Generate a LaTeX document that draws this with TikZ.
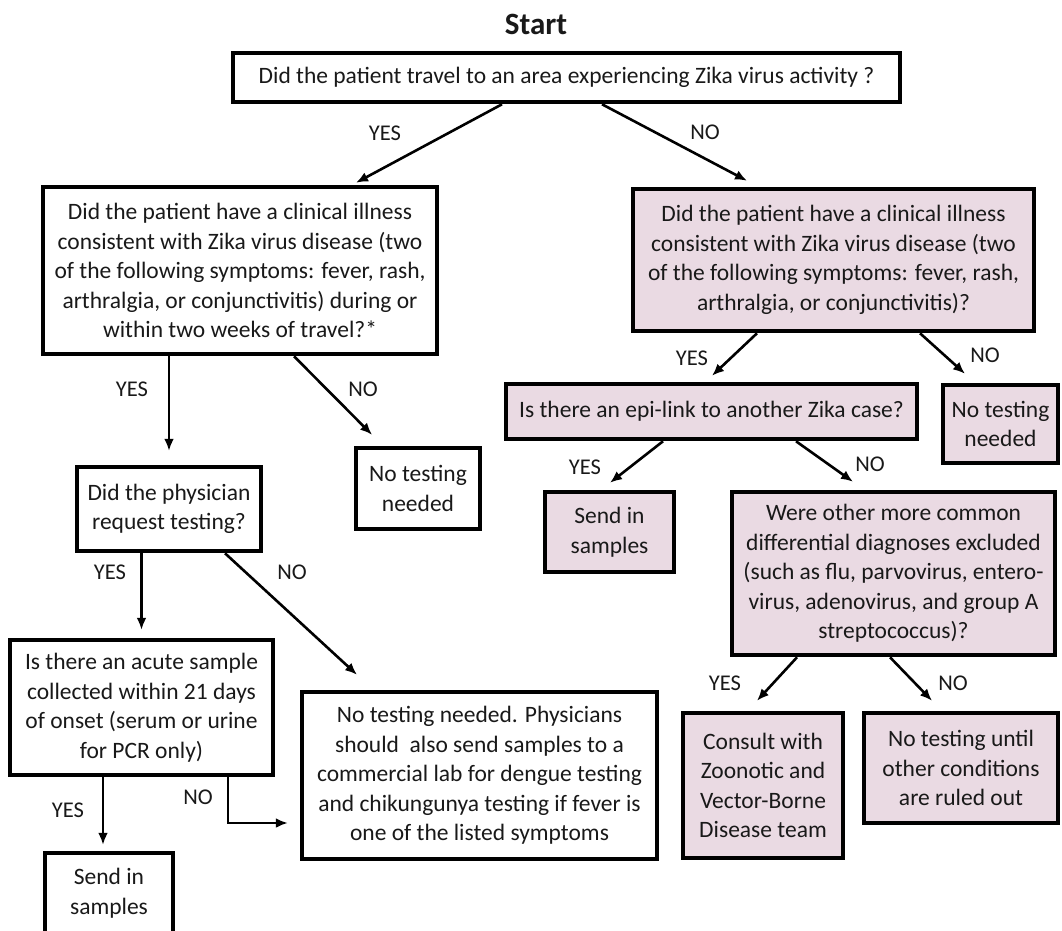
\documentclass[tikz,border=0pt]{standalone}
\usepackage{fontspec}
\setmainfont{Carlito}
\usepackage{xcolor}
\usetikzlibrary{positioning,calc,arrows.meta}
\definecolor{zikapink}{RGB}{234,218,227}
\definecolor{inkgray}{RGB}{25,25,25}

\begin{document}
\begin{tikzpicture}[x=1pt, y=-1pt,
            qbox/.style={rectangle, draw=black, line width=4.5pt, fill=white, align=center, inner sep=0pt, text=inkgray, font=\fontsize{23.5}{29.5}\selectfont},
            pbox/.style={qbox, fill=zikapink},
            lbl/.style={text=inkgray, font=\fontsize{22.5}{24}\selectfont, inner sep=0pt},
            flow/.style={line width=2.6pt, -{Latex[length=12pt,width=10pt]}}
        ]
            \clip (0,0) rectangle (1062,930);
            \fill[white] (0,0) rectangle (1062,930);

            % Title
            \node[font=\fontsize{31}{34}\selectfont\bfseries, text=inkgray] (start) at (536,24) {Start};

            % Top question
            \node[qbox, minimum width=667pt, minimum height=49pt] (travel) at (566.5,77.5)
                {Did the patient travel to an area experiencing Zika virus activity ?};

            % Left branch (travel)
            \node[qbox, minimum width=394pt, minimum height=167pt] (cliniL) at (240,270.5)
                {Did the patient have a clinical illness\\consistent with Zika virus disease (two\\of the following symptoms: fever, rash,\\arthralgia, or conjunctivitis) during or\\within two weeks of travel?*};
            \node[qbox, minimum width=124pt, minimum height=81pt] (notestL) at (418,488.5)
                {No testing\\needed};
            \node[qbox, minimum width=184pt, minimum height=84pt] (physician) at (169,509)
                {Did the physician\\request testing?};
            \node[qbox, minimum width=263pt, minimum height=135pt] (acute) at (141.5,707.5)
                {Is there an acute sample\\collected within 21 days\\of onset (serum or urine\\for PCR only)};
            \node[qbox, minimum width=355pt, minimum height=167pt] (advice) at (479.5,775.5)
                {No testing needed. Physicians\\should\ \ also send samples to a\\commercial lab for dengue testing\\and chikungunya testing if fever is\\one of the listed symptoms};
            \node[qbox, minimum width=128pt, minimum height=80pt] (sendL) at (109,893)
                {Send in\\samples};

            % Right branch (no travel)
            \node[pbox, minimum width=401pt, minimum height=142pt] (cliniR) at (833.5,260)
                {Did the patient have a clinical illness\\consistent with Zika virus disease (two\\of the following symptoms: fever, rash,\\arthralgia, or conjunctivitis)?};
            \node[pbox, minimum width=411pt, minimum height=55pt] (epi) at (711.5,411.5)
                {Is there an epi-link to another Zika case?};
            \node[pbox, minimum width=115pt, minimum height=78pt] (notestR) at (1000.5,424)
                {No testing\\needed};
            \node[pbox, minimum width=129pt, minimum height=80pt] (sendR) at (609.5,532)
                {Send in\\samples};
            \node[pbox, minimum width=323pt, minimum height=163pt] (diffdx) at (893.5,573.5)
                {Were other more common\\differential diagnoses excluded\\(such as flu, parvovirus, entero-\\virus, adenovirus, and group A\\streptococcus)?};
            \node[pbox, minimum width=160pt, minimum height=145pt] (consult) at (763,785.5)
                {Consult with\\Zoonotic and\\Vector-Borne\\Disease team};
            \node[pbox, minimum width=194pt, minimum height=110pt] (until) at (961,768)
                {No testing until\\other conditions\\are ruled out};

            % Connections, left side
            \draw[flow] ([xshift=-64.5pt]travel.south) -- ([xshift=116pt,yshift=2pt]cliniL.north);
            \draw[flow] ([xshift=-71pt]cliniL.south) -- ([yshift=14pt]physician.north);
            \draw[flow] ([xshift=54pt]cliniL.south) -- ([xshift=-46pt,yshift=11pt]notestL.north);
            \draw[flow] ([xshift=-27.5pt]physician.south) -- ([yshift=8pt]acute.north);
            \draw[flow] ([xshift=56pt]physician.south) -- ([xshift=-122.5pt,yshift=15pt]advice.north);
            \draw[flow] ([xshift=-38.5pt]acute.south) -- ([xshift=-6pt,yshift=6pt]sendL.north);
            \draw[flow] ([xshift=86.5pt]acute.south) |- ([xshift=-12pt,yshift=-47.5pt]advice.west);

            % Connections, right side
            \draw[flow] ([xshift=35.5pt]travel.south) -- ([xshift=-86.5pt,yshift=6pt]cliniR.north);
            \draw[flow] ([xshift=-76.5pt]cliniR.south) -- ([xshift=0.5pt,yshift=6pt]epi.north);
            \draw[flow] ([xshift=86.5pt]cliniR.south) -- ([xshift=-35.5pt,yshift=9pt]notestR.north);
            \draw[flow] ([xshift=-48.5pt]epi.south) -- ([xshift=0.5pt,yshift=7pt]sendR.north);
            \draw[flow] ([xshift=84.5pt]epi.south) -- ([xshift=-40.5pt,yshift=8pt]diffdx.north);
            \draw[flow] ([xshift=-96.5pt]diffdx.south) -- ([xshift=-6pt,yshift=10pt]consult.north);
            \draw[flow] ([xshift=-3.5pt]diffdx.south) -- ([xshift=-29pt,yshift=10pt]until.north);

            % Labels
            \node[lbl] (y1) at (385,133) {YES};
            \node[lbl] (n1) at (705,132) {NO};
            \node[lbl] (y2) at (132,389) {YES};
            \node[lbl] (n2) at (363,389) {NO};
            \node[lbl] (y3) at (110,572) {YES};
            \node[lbl] (n3) at (292,572) {NO};
            \node[lbl] (y4) at (68,810) {YES};
            \node[lbl] (n4) at (198,797) {NO};
            \node[lbl] (y5) at (692,358) {YES};
            \node[lbl] (n5) at (985,355) {NO};
            \node[lbl] (y6) at (585,467) {YES};
            \node[lbl] (n6) at (870,464) {NO};
            \node[lbl] (y7) at (725,683) {YES};
            \node[lbl] (n7) at (953,683) {NO};
        \end{tikzpicture}
\end{document}
